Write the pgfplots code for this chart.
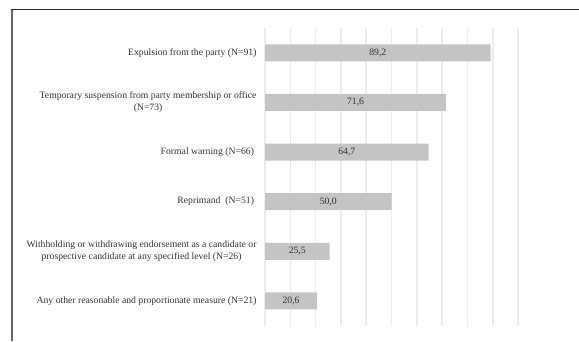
\documentclass[border=0pt]{standalone}
\usepackage{pgfplots}
\pgfplotsset{compat=1.18}
\usepackage{pgfplotstable}
\usepackage{fontspec}
\setmainfont{Liberation Serif}
\definecolor{barc}{RGB}{196,196,196}
\definecolor{gridc}{RGB}{236,236,236}
\definecolor{framec}{RGB}{100,100,100}
\definecolor{textc}{RGB}{50,50,50}
\pgfplotstableread{
y v
0 89.2
1 71.6
2 64.7
3 50.0
4 25.5
5 20.6
}\datatable
\begin{document}
\begin{tikzpicture}[x=1bp,y=1bp]
\path[use as bounding box] (0,0) rectangle (579,341);
\draw[framec, line width=2bp] (12,0) -- (12,332);
\draw[black!85, line width=1bp] (11,331.7) -- (579,331.7);
\begin{axis}[
  at={(265bp,15.3bp)}, anchor=south west,
  scale only axis, width=253bp, height=297.7bp,
  xmin=0, xmax=100, ymin=-0.5, ymax=5.5,
  y dir=reverse,
  axis line style={draw=none},
  xtick={0,10,...,100}, xticklabels={},
  xmajorgrids, major grid style={gridc, line width=1.6bp},
  major tick length=0pt,
  ytick={0,...,5},
  yticklabels={
    {Expulsion from the party (N=91)},
    {Temporary suspension from party membership or office\\(N=73)},
    {Formal warning (N=66)\hspace*{2.5bp}},
    {Reprimand\ \ (N=51)\hspace*{2.5bp}},
    {Withholding or withdrawing endorsement as a candidate or\\prospective candidate at any specified level (N=26)},
    {Any other reasonable and proportionate measure (N=21)}},
  yticklabel style={align=center, font=\fontsize{9.7bp}{12.3bp}\selectfont, text=textc, inner xsep=0pt, xshift=-8.3bp},
  clip=false,
]
\addplot[xbar, bar width=17bp, fill=barc, draw=none] table[x=v, y=y] {\datatable};
\addplot[draw=none, mark=none, nodes near coords={\pgfmathprintnumber[assume math mode=true, use comma, fixed, fixed zerofill, precision=1]{\pgfplotspointmeta}},
  point meta=explicit,
  every node near coord/.style={anchor=center, font=\fontsize{9.7bp}{12bp}\selectfont, text=textc}]
  table[x expr=\thisrow{v}/2, y=y, meta=v] {\datatable};
\end{axis}
\end{tikzpicture}
\end{document}
